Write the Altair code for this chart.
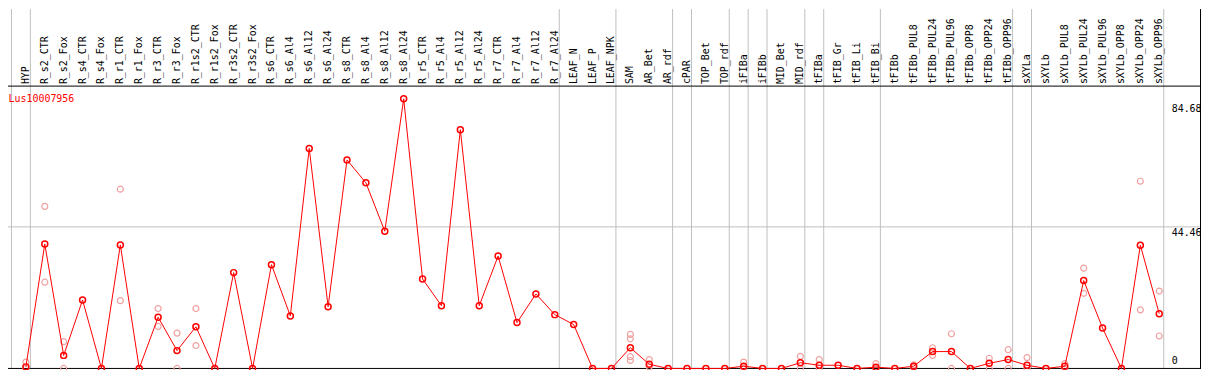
import altair as alt
import pandas as pd

categories = ["HYP", "R_s2_CTR", "R_s2_Fox", "R_s4_CTR", "R_s4_Fox", "R_r1_CTR", "R_r1_Fox",
              "R_r3_CTR", "R_r3_Fox", "R_r1s2_CTR", "R_r1s2_Fox", "R_r3s2_CTR", "R_r3s2_Fox",
              "R_s6_CTR", "R_s6_Al4", "R_s6_Al12", "R_s6_Al24", "R_s8_CTR", "R_s8_Al4", "R_s8_Al12",
              "R_s8_Al24", "R_r5_CTR", "R_r5_Al4", "R_r5_Al12", "R_r5_Al24", "R_r7_CTR", "R_r7_Al4",
              "R_r7_Al12", "R_r7_Al24", "LEAF_N", "LEAF_P", "LEAF_NPK", "SAM", "AR_Bet", "AR_rdf",
              "cPAR", "TOP_Bet", "TOP_rdf", "iFIBa", "iFIBb", "MID_Bet", "MID_rdf", "tFIBa", "tFIB_Gr",
              "tFIB_Li", "tFIB_Bi", "tFIBb", "tFIBb_PUL8", "tFIBb_PUL24", "tFIBb_PUL96", "tFIBb_OPP8",
              "tFIBb_OPP24", "tFIBb_OPP96", "sXYLa", "sXYLb", "sXYLb_PUL8", "sXYLb_PUL24",
              "sXYLb_PUL96", "sXYLb_OPP8", "sXYLb_OPP24", "sXYLb_OPP96"]

means = [0.5, 39.1, 4.1, 21.5, 0, 38.8, 0, 16.1, 5.6, 13.1, 0, 30.1, 0,
         32.6, 16.5, 69.1, 19.4, 65.5, 58.3, 43.1, 84.68, 28.1, 19.7, 75.0, 19.7,
         35.3, 14.4, 23.4, 16.9, 13.8, 0, 0, 6.5, 1.3, 0, 0, 0, 0, 0.7, 0, 0, 1.8,
         1.0, 1.0, 0, 0.4, 0, 0.7, 5.3, 5.3, 0, 1.6, 2.8, 1.0, 0, 0.7, 27.6, 12.7,
         0, 38.7, 17.2]

rep_cat = ["HYP", "HYP", "R_s2_CTR", "R_s2_CTR", "R_s2_Fox", "R_s2_Fox", "R_r1_CTR", "R_r1_CTR",
           "R_r3_CTR", "R_r3_CTR", "R_r3_Fox", "R_r3_Fox", "R_r1s2_CTR", "R_r1s2_CTR",
           "SAM", "SAM", "SAM", "SAM", "AR_Bet", "AR_Bet", "iFIBa", "iFIBa", "MID_rdf", "MID_rdf",
           "tFIBa", "tFIBa", "tFIB_Bi", "tFIB_Bi", "tFIBb_PUL8", "tFIBb_PUL8",
           "tFIBb_PUL24", "tFIBb_PUL24", "tFIBb_PUL96", "tFIBb_PUL96", "tFIBb_OPP24", "tFIBb_OPP24",
           "tFIBb_OPP96", "tFIBb_OPP96", "sXYLa", "sXYLa", "sXYLb_PUL8", "sXYLb_PUL8",
           "sXYLb_PUL24", "sXYLb_PUL24", "sXYLb_OPP24", "sXYLb_OPP24", "sXYLb_OPP96", "sXYLb_OPP96"]
rep_val = [2.0, 0, 50.9, 27.1, 8.4, 0, 56.3, 21.3,
           18.8, 13.2, 11.1, 0, 18.8, 7.2,
           10.7, 9.3, 3.7, 2.5, 2.8, 0.5, 2.0, 0, 3.8, 0,
           2.8, 0, 1.5, 0, 1.1, 0.3,
           6.5, 4.1, 10.9, 0, 3.2, 0,
           5.9, 0, 3.4, 0, 1.5, 0,
           31.5, 23.6, 58.8, 18.4, 24.3, 10.2]

# sizes of the category groups separated by grey vertical lines
group_sizes = [1, 28, 3, 3, 1, 2, 1, 1, 2, 1, 3, 7, 1, 7]

tick_values = [84.68, 44.46, 0]
tick_labels = ["84.68", "44.46", "0"]
grid_values = [44.46]

title_text = "Lus10007956"

# ---------------------------------------------------------------------------
idx_of = {c: i for i, c in enumerate(categories)}
df_mean = pd.DataFrame({"cat": categories, "idx": list(range(len(categories))), "value": means})
df_rep = pd.DataFrame({"cat": rep_cat, "value": rep_val})
df_rep["idx"] = df_rep["cat"].map(idx_of)

bounds = [-1]
acc = 0
for g in group_sizes:
    acc += g
    bounds.append(acc - 1)
df_sep = pd.DataFrame({"idx": bounds})
df_ticks = pd.DataFrame({"v": tick_values, "label": tick_labels})
df_grid = pd.DataFrame({"v": grid_values})

W, H = 1200, 362
xs = alt.Scale(domain=[-18 / 19, (W - 18) / 19], nice=False, zero=False)
ys = alt.Scale(domain=[-0.156, 112.875], nice=False, zero=False)

FONT = "DejaVu Sans Mono"
one = alt.Data(values=[{}])

sep = alt.Chart(df_sep).mark_rule(color="#c0c0c0", strokeWidth=1, xOffset=4.5).encode(
    x=alt.X("idx:Q", scale=xs, axis=None), y=alt.value(0), y2=alt.value(H))

grid = alt.Chart(df_grid).mark_rule(color="#c0c0c0", strokeWidth=1).encode(
    y=alt.Y("v:Q", scale=ys, axis=None), x=alt.value(0), x2=alt.value(W))

header_line = alt.Chart(one).mark_rule(color="black", strokeWidth=1).encode(
    y=alt.value(77.5), x=alt.value(0), x2=alt.value(W))
bottom_line = alt.Chart(one).mark_rule(color="black", strokeWidth=1).encode(
    y=alt.value(361.5), x=alt.value(0), x2=alt.value(W))
right_line = alt.Chart(one).mark_rule(color="black", strokeWidth=1).encode(
    x=alt.value(1199.5), y=alt.value(0), y2=alt.value(H))

reps = alt.Chart(df_rep).mark_point(shape="circle", filled=False, color="#f0a0a0",
                                    size=36, strokeWidth=1.2, opacity=1).encode(
    x=alt.X("idx:Q", scale=xs, axis=None), y=alt.Y("value:Q", scale=ys, axis=None))

line = alt.Chart(df_mean).mark_line(color="#ff0000", strokeWidth=1).encode(
    x=alt.X("idx:Q", scale=xs, axis=None), y=alt.Y("value:Q", scale=ys, axis=None),
    order="idx:Q")

pts = alt.Chart(df_mean).mark_point(shape="circle", filled=False, color="#ff0000",
                                    size=36, strokeWidth=1.5, opacity=1).encode(
    x=alt.X("idx:Q", scale=xs, axis=None), y=alt.Y("value:Q", scale=ys, axis=None))

cat_labels = alt.Chart(df_mean).mark_text(angle=270, align="left", baseline="middle",
                                          font=FONT, fontSize=10, color="black").encode(
    x=alt.X("idx:Q", scale=xs, axis=None), y=alt.value(75.5), text="cat:N")

title = alt.Chart(one).mark_text(align="left", baseline="alphabetic", font=FONT,
                                 fontSize=10, color="#ff0000").encode(
    x=alt.value(0.5), y=alt.value(93.5), text=alt.value(title_text))

def tick_layer(val, dy):
    return alt.Chart(df_ticks).transform_filter(alt.datum.v == val).mark_text(
        align="left", baseline="alphabetic", font=FONT, fontSize=10, color="black", dy=dy).encode(
        y=alt.Y("v:Q", scale=ys, axis=None), x=alt.value(1170.5), text="label:N")

ticks = [tick_layer(84.68, 13.4), tick_layer(44.46, 8.9), tick_layer(0, -4.5)]

chart = alt.layer(sep, grid, header_line, bottom_line, right_line, reps, line, pts,
                  cat_labels, title, *ticks).properties(
    width=W, height=H, autosize=alt.AutoSizeParams(type="none"), padding=0,
    background="white").configure_view(stroke="transparent")

chart.save("out.html", embed_options={"renderer": "svg", "actions": False})
